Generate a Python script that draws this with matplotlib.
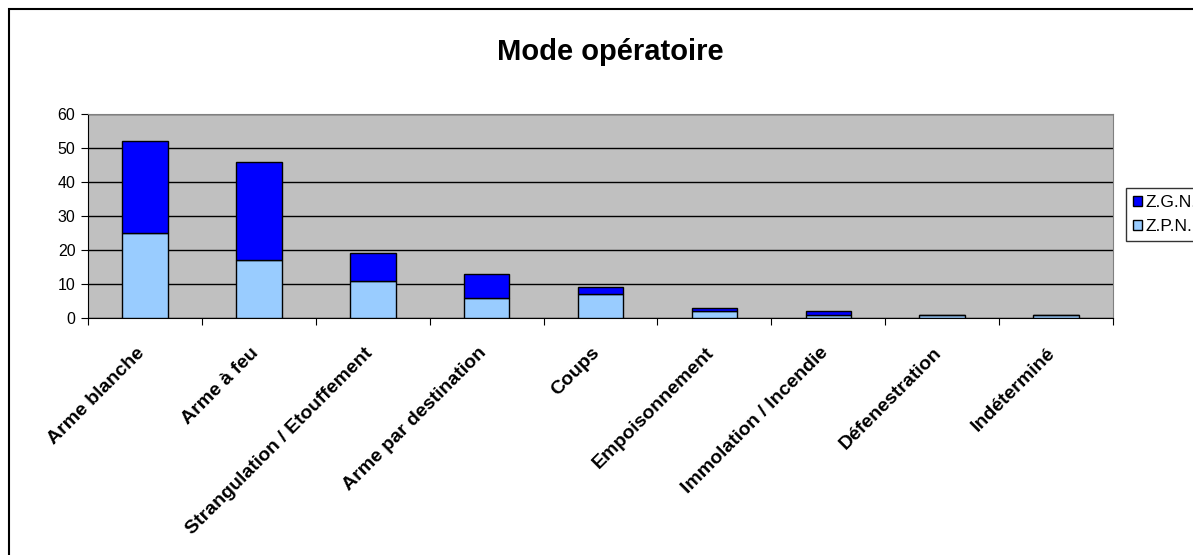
import numpy as np
import matplotlib.pyplot as plt
from matplotlib.patches import Rectangle
from matplotlib.transforms import ScaledTranslation

plt.rcParams['font.family'] = ['Liberation Sans', 'DejaVu Sans']

# Data
categories = ["Arme blanche", "Arme à feu", "Strangulation / Etouffement",
              "Arme par destination", "Coups", "Empoisonnement",
              "Immolation / Incendie", "Défenestration", "Indéterminé"]
zpn = [25, 17, 11, 6, 7, 2, 1, 1, 1]
zgn = [27, 29, 8, 7, 2, 1, 1, 0, 0]

W, H = 1193, 555
fig = plt.figure(figsize=(W / 100, H / 100), dpi=100)

# chart outer border (right / bottom edges fall outside the picture)
fig.patches.append(Rectangle((9 / W, -0.05), 1.1, 1 - 9 / H + 0.05,
                             transform=fig.transFigure, fill=False,
                             edgecolor='black', linewidth=1.5))

ax = fig.add_axes([88 / W, 1 - 318 / H, (1113 - 88) / W, (318 - 114) / H])
ax.set_facecolor('#C0C0C0')

x = np.arange(len(categories))
ax.bar(x, zpn, width=0.4, color='#99CCFF', edgecolor='black', linewidth=1,
       label='Z.P.N.', zorder=3)
ax.bar(x, zgn, width=0.4, bottom=zpn, color='#0000FF', edgecolor='black',
       linewidth=1, label='Z.G.N.', zorder=3)

ax.set_xlim(-0.5, len(categories) - 0.5)
ax.set_ylim(0, 60)
ax.set_yticks(range(0, 61, 10))
ax.yaxis.grid(True, color='black', linewidth=1, zorder=1)

# category boundaries as ticks, labels at category centres
ax.set_xticks(np.arange(-0.5, len(categories), 1.0))
ax.set_xticklabels([])
ax.set_xticks(x, minor=True)
ax.set_xticklabels(categories, minor=True, rotation=45, ha='right', va='top',
                   rotation_mode='anchor', fontsize=14, fontweight='bold')
ax.tick_params(axis='x', which='minor', length=0, pad=19)
ax.tick_params(axis='x', which='major', length=5, direction='out', color='black')
ax.tick_params(axis='y', length=5, direction='out', labelsize=11.5, pad=4)
shift = ScaledTranslation(-9 / 100, 0, fig.dpi_scale_trans)
for lbl in ax.get_xticklabels(minor=True):
    lbl.set_transform(lbl.get_transform() + shift)

for side in ['top', 'right']:
    ax.spines[side].set_color('#808080')
for side in ['left', 'bottom']:
    ax.spines[side].set_color('black')

fig.text(610 / W, 1 - 60 / H, "Mode opératoire", ha='center', va='baseline',
         fontsize=21, fontweight='bold')

handles, labels = ax.get_legend_handles_labels()
leg = fig.legend(handles[::-1], labels[::-1], loc='upper left',
                 bbox_to_anchor=(1126 / W, 1 - 188 / H), fontsize=12.5,
                 frameon=True, fancybox=False, edgecolor='black',
                 handlelength=0.5, handleheight=0.5, handletextpad=0.25,
                 borderpad=0.4, labelspacing=0.55, borderaxespad=0)
leg.get_frame().set_linewidth(1)

fig.savefig('out.png', dpi=100)
